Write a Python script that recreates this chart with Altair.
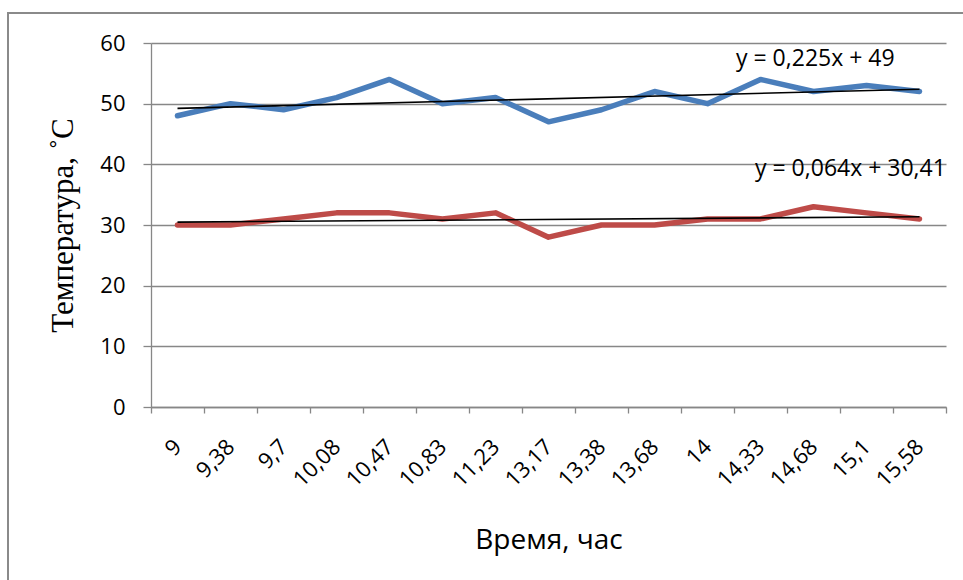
import altair as alt
import pandas as pd

# Measurement times (hours) and temperatures of the two series
hours = ["9", "9,38", "9,7", "10,08", "10,47", "10,83", "11,23", "13,17",
         "13,38", "13,68", "14", "14,33", "14,68", "15,1", "15,58"]
series_names = ["Ряд1", "Ряд2"]
temp_upper = [48, 50, 49, 51, 54, 50, 51, 47, 49, 52, 50, 54, 52, 53, 52]
temp_lower = [30, 30, 31, 32, 32, 31, 32, 28, 30, 30, 31, 31, 33, 32, 31]

# Linear trend lines y = slope * x + intercept (x = point number)
trend_slopes = [0.225, 0.064]
trend_intercepts = [49, 30.41]
trend_labels = ["y = 0,225x + 49", "y = 0,064x + 30,41"]

y_ticks = [0, 10, 20, 30, 40, 50, 60]

GRID = "#878787"
BLUE = "#4A7EBB"
RED = "#BE4B48"
SANS = "Open Sans"

n = len(hours)
idx = list(range(1, n + 1))

lines_df = pd.DataFrame({
    "idx": idx * 2,
    "temp": temp_upper + temp_lower,
    "series": [series_names[0]] * n + [series_names[1]] * n,
})

trend_df = pd.DataFrame({
    "series": [s for s in series_names for _ in (0, 1)],
    "slope": [s for s in trend_slopes for _ in (0, 1)],
    "intercept": [b for b in trend_intercepts for _ in (0, 1)],
    "idx": [1, n] * len(series_names),
})

x_scale = alt.Scale(domain=[0.5, n + 0.5], nice=False, zero=False)
y_scale = alt.Scale(domain=[0, 60], nice=False)

# ticks sit on category boundaries, labels at category centres
x_values = [k / 2 for k in range(1, 2 * n + 2)]
label_array = "[" + ",".join("'" + h + "'" for h in hours) + "]"

x_axis = alt.Axis(
    values=x_values,
    labelExpr=f"datum.value % 1 === 0 ? {label_array}[datum.value - 1] : ''",
    tickOpacity={"condition": {"test": "datum.value % 1 === 0", "value": 0}, "value": 1},
    tickSize=6, tickColor=GRID, tickWidth=1.3,
    domainColor=GRID, domainWidth=1.3,
    grid=False,
    labelAngle=315, labelAlign="right", labelBaseline="middle",
    labelPadding=30, labelFont=SANS, labelFontSize=22, labelColor="black",
    labelOverlap=False, labelFlush=False,
    title="Время, час", titleFont=SANS, titleFontSize=28,
    titleFontWeight="normal", titleColor="black",
    titleX=397.5, titleY=141, titleAlign="center", titleBaseline="alphabetic",
)

y_axis = alt.Axis(
    values=y_ticks,
    tickSize=8, tickColor=GRID, tickWidth=1.3,
    domainColor=GRID, domainWidth=1.3,
    grid=True, gridColor=GRID, gridWidth=1.3,
    labelPadding=18, labelFont=SANS, labelFontSize=22, labelColor="black",
    title="Температура, ˚С", titleFont="Liberation Serif", titleFontSize=31,
    titleFontWeight="normal", titleColor="black",
    titleAngle=270, titleX=-79, titleY=182,
    titleAlign="center", titleBaseline="alphabetic",
)

lines = alt.Chart(lines_df).mark_line(
    strokeWidth=5.5, strokeCap="round", strokeJoin="round"
).encode(
    x=alt.X("idx:Q", scale=x_scale, axis=x_axis),
    y=alt.Y("temp:Q", scale=y_scale, axis=y_axis),
    color=alt.Color("series:N",
                    scale=alt.Scale(domain=series_names, range=[BLUE, RED]),
                    legend=None),
)

trends = alt.Chart(trend_df).transform_calculate(
    trend="datum.slope * datum.idx + datum.intercept"
).mark_line(color="black", strokeWidth=1.6).encode(
    x=alt.X("idx:Q", scale=x_scale, axis=x_axis),
    y=alt.Y("trend:Q", scale=y_scale, axis=y_axis),
    detail="series:N",
)

# trend equations placed near the right end of each trend line
eq_positions = [(585, 23), (604, 133)]
one_row = alt.Data(values=[{}])
eq_layers = [
    alt.Chart(one_row).mark_text(
        text=label, font=SANS, fontSize=23, color="black",
        align="left", baseline="alphabetic",
    ).encode(x=alt.value(px), y=alt.value(py))
    for label, (px, py) in zip(trend_labels, eq_positions)
]

# outer chart frame (left and top edges)
frame_left = alt.Chart(one_row).mark_rule(color="#8a8a8a", strokeWidth=2).encode(
    x=alt.value(-143), y=alt.value(-30), y2=alt.value(540)
)
frame_top = alt.Chart(one_row).mark_rule(color="#8a8a8a", strokeWidth=2).encode(
    x=alt.value(-144), x2=alt.value(830), y=alt.value(-30)
)

chart = alt.layer(
    lines, trends, frame_left, frame_top, *eq_layers
).properties(
    width=795, height=364,
    padding={"left": 151, "top": 43, "right": 17, "bottom": 173},
    autosize="none",
    background="white",
).configure_view(stroke=None)

chart.save("out.html", embed_options={"renderer": "svg", "actions": False})
